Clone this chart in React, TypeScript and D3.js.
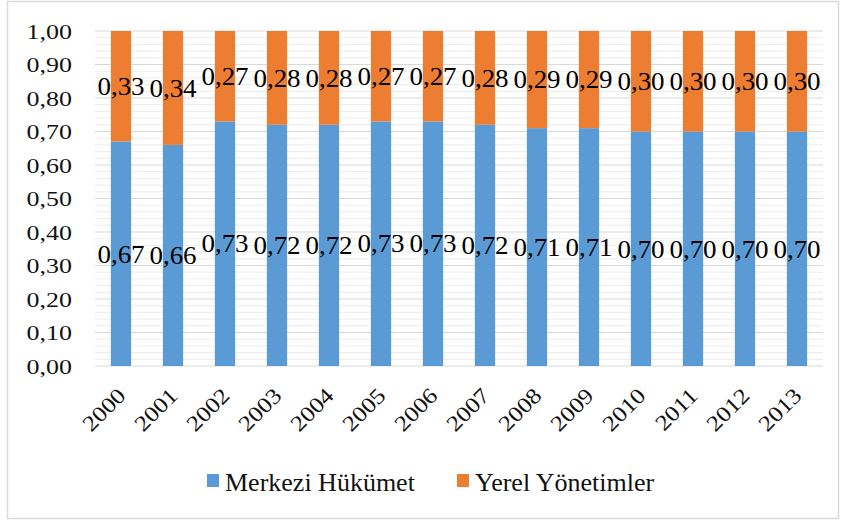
import * as d3 from "d3";

const years = ["2000", "2001", "2002", "2003", "2004", "2005", "2006", "2007", "2008", "2009", "2010", "2011", "2012", "2013"];
const merkezi = [0.67, 0.66, 0.73, 0.72, 0.72, 0.73, 0.73, 0.72, 0.71, 0.71, 0.70, 0.70, 0.70, 0.70];
const yerel = [0.33, 0.34, 0.27, 0.28, 0.28, 0.27, 0.27, 0.28, 0.29, 0.29, 0.30, 0.30, 0.30, 0.30];
const seriesNames = ["Merkezi Hükümet", "Yerel Yönetimler"];
const colors = ["#5B9BD5", "#ED7D31"];
const majorTicks = [0, 0.1, 0.2, 0.3, 0.4, 0.5, 0.6, 0.7, 0.8, 0.9, 1.0];

const fmt = (v: number) => v.toFixed(2).replace(".", ",");
const FONT = "Liberation Serif, Times New Roman, serif";

export default function App() {
  const width = 843;
  const height = 522;
  const margin = { top: 31, right: 20, bottom: 156, left: 95 };

  const rows = years.map((y, i) => ({ year: y, m: merkezi[i], yv: yerel[i] }));
  const stack = d3.stack<any>().keys(["m", "yv"])(rows as any);

  const x = d3
    .scaleBand()
    .domain(years)
    .range([margin.left, width - margin.right])
    .paddingInner(0.61)
    .paddingOuter(0.305);

  const y = d3
    .scaleLinear()
    .domain([0, 1])
    .range([height - margin.bottom, margin.top]);

  // light lines every 0.02 between the major ones
  const minorTicks = d3.range(0, 101, 2).map((v) => v / 100).filter((v) => Math.round(v * 100) % 10 !== 0);
  const x0 = margin.left;
  const x1 = width - margin.right;

  return (
    <div style={{ position: "absolute", left: 0, top: 0 }}>
      <svg width={width} height={height} viewBox={`0 0 ${width} ${height}`} style={{ display: "block", background: "#fff", fontFamily: FONT }}>
        <rect x={7.5} y={1.5} width={831} height={517} fill="#fff" stroke="#d9d9d9" strokeWidth={1.5} />

        {minorTicks.map((t) => (
          <line key={"m" + t} x1={x0} x2={x1} y1={y(t)} y2={y(t)} stroke="#ececec" strokeWidth={1} />
        ))}
        {majorTicks.map((t) => (
          <g key={t}>
            <line x1={x0} x2={x1} y1={y(t)} y2={y(t)} stroke="#d9d9d9" strokeWidth={1} />
            <text
              transform={`translate(72,${y(t)}) scale(1.18,1)`}
              dy="0.35em"
              textAnchor="end"
              fontSize={22}
              fill="#111"
            >
              {fmt(t)}
            </text>
          </g>
        ))}

        {stack.map((layer, si) => (
          <g key={si}>
            {layer.map((d, i) => {
              const bx = x(years[i]) ?? 0;
              const bw = x.bandwidth();
              const v = si === 0 ? merkezi[i] : yerel[i];
              return (
                <g key={i}>
                  <rect x={bx} y={y(d[1])} width={bw} height={y(d[0]) - y(d[1])} fill={colors[si]} />
                  <text
                    transform={`translate(${bx + bw / 2},${y((d[0] + d[1]) / 2)}) scale(1.08,1)`}
                    dy="0.35em"
                    textAnchor="middle"
                    fontSize={25}
                    fill="#000"
                  >
                    {fmt(v)}
                  </text>
                </g>
              );
            })}
          </g>
        ))}

        {years.map((yr) => {
          const cx = (x(yr) ?? 0) + x.bandwidth() / 2;
          return (
            <text
              key={yr}
              transform={`translate(${cx + 6},${y(0) + 31}) rotate(-45) scale(1.15,1)`}
              textAnchor="end"
              fontSize={22}
              fill="#111"
            >
              {yr}
            </text>
          );
        })}

        {seriesNames.map((name, i) => {
          const lx = i === 0 ? 207 : 457;
          return (
            <g key={name}>
              <rect x={lx} y={474} width={12} height={13} fill={colors[i]} />
              <text x={lx + 18} y={491} fontSize={26} fill="#111">
                {name}
              </text>
            </g>
          );
        })}
      </svg>
    </div>
  );
}
